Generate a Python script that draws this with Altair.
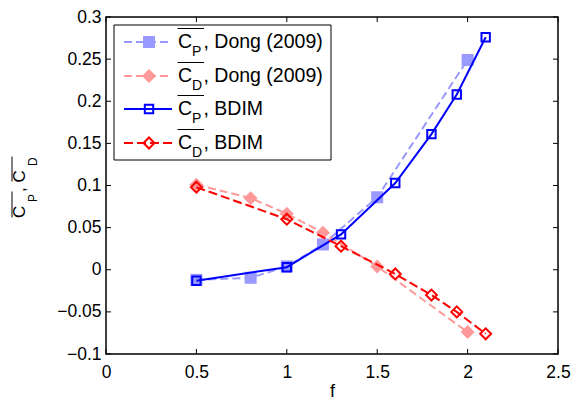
import altair as alt
import pandas as pd

# ---------------- data ----------------
dong_f = [0.5, 0.8, 1.0, 1.2, 1.5, 2.0]
dong_cp = [-0.012, -0.0095, 0.004, 0.030, 0.086, 0.249]
dong_cd = [0.101, 0.085, 0.0665, 0.044, 0.004, -0.074]

bdim_f = [0.5, 1.0, 1.3, 1.6, 1.8, 1.94, 2.1]
bdim_cp = [-0.013, 0.003, 0.042, 0.103, 0.161, 0.208, 0.276]
bdim_cd = [0.098, 0.060, 0.028, -0.005, -0.030, -0.050, -0.076]

x_ticks = [0, 0.5, 1, 1.5, 2, 2.5]
y_ticks = [-0.1, -0.05, 0, 0.05, 0.1, 0.15, 0.2, 0.25, 0.3]

legend_subs = ["P", "D", "P", "D"]
legend_rest = [", Dong (2009)", ", Dong (2009)", ", BDIM", ", BDIM"]

# ---------------- style ----------------
W, H = 452, 337
FONT = "Liberation Sans"
LIGHT_BLUE = "#9999ff"
PINK = "#ff9999"
BLUE = "#0000ff"
RED = "#ff0000"

xs = alt.Scale(domain=[0, 2.5], nice=False, zero=False)
ys = alt.Scale(domain=[-0.1, 0.3], nice=False, zero=False)

xaxis = alt.Axis(values=x_ticks, ticks=False, domain=False, grid=False,
                 labelFont=FONT, labelFontSize=17.5, labelColor="black",
                 labelPadding=9, labelFlush=False, format="~g",
                 title="f", titleFont=FONT, titleFontSize=18,
                 titleFontWeight="normal", titleColor="black", titlePadding=2)
yaxis = alt.Axis(values=y_ticks, ticks=False, domain=False, grid=False,
                 labelFont=FONT, labelFontSize=17.5, labelColor="black",
                 labelPadding=5, labelFlush=False, format="~g", title=None)

series = [
    dict(f=dong_f, v=dong_cp, color=LIGHT_BLUE, dash=[8, 4], shape="square", filled=True, size=144),
    dict(f=dong_f, v=dong_cd, color=PINK, dash=[8, 4], shape="diamond", filled=True, size=196),
    dict(f=bdim_f, v=bdim_cp, color=BLUE, dash=None, shape="square", filled=False, size=70),
    dict(f=bdim_f, v=bdim_cd, color=RED, dash=[9, 4], shape="diamond", filled=False, size=120),
]

layers = []
for s in series:
    df = pd.DataFrame({"f": s["f"], "v": s["v"]})
    base = alt.Chart(df).encode(
        x=alt.X("f:Q", scale=xs, axis=xaxis),
        y=alt.Y("v:Q", scale=ys, axis=yaxis),
    )
    lkw = dict(color=s["color"], strokeWidth=2)
    if s["dash"]:
        lkw["strokeDash"] = s["dash"]
    layers.append(base.mark_line(**lkw))
    layers.append(base.mark_point(shape=s["shape"], filled=s["filled"], color=s["color"],
                                  size=s["size"], strokeWidth=2, opacity=1))

# inward ticks on all four sides
xt = pd.DataFrame({"f": x_ticks})
yt = pd.DataFrame({"v": y_ticks})
tick_kw = dict(color="black", strokeWidth=1)
layers.append(alt.Chart(xt).mark_rule(**tick_kw).encode(
    x=alt.X("f:Q", scale=xs, axis=xaxis), y=alt.value(H), y2=alt.value(H - 5)))
layers.append(alt.Chart(xt).mark_rule(**tick_kw).encode(
    x=alt.X("f:Q", scale=xs, axis=xaxis), y=alt.value(0), y2=alt.value(5)))
layers.append(alt.Chart(yt).mark_rule(**tick_kw).encode(
    y=alt.Y("v:Q", scale=ys, axis=yaxis), x=alt.value(0), x2=alt.value(5)))
layers.append(alt.Chart(yt).mark_rule(**tick_kw).encode(
    y=alt.Y("v:Q", scale=ys, axis=yaxis), x=alt.value(W), x2=alt.value(W - 5)))

# ---------------- custom legend ----------------
one = pd.DataFrame({"a": [0]})
layers.append(alt.Chart(one).mark_rect(fill="white", stroke="black", strokeWidth=1).encode(
    x=alt.value(8), x2=alt.value(225), y=alt.value(8), y2=alt.value(143)))

row_y = [25, 59, 92, 126]
for i, s in enumerate(series):
    yc = row_y[i]
    lkw = dict(color=s["color"], strokeWidth=2)
    if s["dash"]:
        lkw["strokeDash"] = s["dash"]
    layers.append(alt.Chart(one).mark_rule(**lkw).encode(
        x=alt.value(18), x2=alt.value(66), y=alt.value(yc)))
    layers.append(alt.Chart(one).mark_point(shape=s["shape"], filled=s["filled"], color=s["color"],
                                            size=s["size"], strokeWidth=2, opacity=1).encode(
        x=alt.value(43), y=alt.value(yc)))
    layers.append(alt.Chart(one).mark_text(text="C", font=FONT, fontSize=19.5, align="left",
                                           baseline="alphabetic", color="black").encode(
        x=alt.value(72), y=alt.value(yc + 6)))
    layers.append(alt.Chart(one).mark_text(text=legend_subs[i], font=FONT, fontSize=14, align="left",
                                           baseline="alphabetic", color="black").encode(
        x=alt.value(86), y=alt.value(yc + 14)))
    layers.append(alt.Chart(one).mark_text(text=legend_rest[i], font=FONT, fontSize=19.5, align="left",
                                           baseline="alphabetic", color="black").encode(
        x=alt.value(97.5), y=alt.value(yc + 6)))
    layers.append(alt.Chart(one).mark_rule(color="black", strokeWidth=1).encode(
        x=alt.value(71.5), x2=alt.value(98), y=alt.value(yc - 13.5)))

# ---------------- y-axis title with overlines and subscripts ----------------
def vtext(txt, x, y, size):
    return alt.Chart(one).mark_text(text=txt, font=FONT, fontSize=size, angle=270, align="left",
                                    baseline="alphabetic", color="black").encode(
        x=alt.value(x), y=alt.value(y))

layers.append(vtext("C", -81.5, 201, 17))
layers.append(vtext("P", -69.5, 185, 12))
layers.append(vtext(",", -81.5, 175, 17))
layers.append(vtext("C", -81.5, 165.5, 17))
layers.append(vtext("D", -69.5, 149, 12))
layers.append(alt.Chart(one).mark_rule(color="black", strokeWidth=1).encode(
    x=alt.value(-94), y=alt.value(200.5), y2=alt.value(174.5)))
layers.append(alt.Chart(one).mark_rule(color="black", strokeWidth=1).encode(
    x=alt.value(-94), y=alt.value(164.5), y2=alt.value(139.5)))

chart = alt.layer(*layers).properties(
    width=W, height=H,
    padding={"left": 98, "top": 9, "right": 13, "bottom": 49},
    autosize=alt.AutoSizeParams(type="none"),
    background="white",
).configure_view(stroke="black", strokeWidth=1.5)

chart.save("out.html", embed_options={"renderer": "svg", "actions": False})
